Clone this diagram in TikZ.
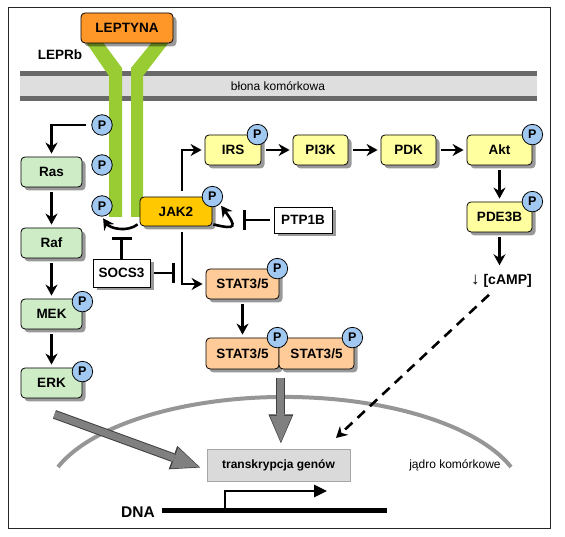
\documentclass[tikz,border=0pt]{standalone}
\usepackage{fontspec}
\setmainfont{Liberation Sans}
\usetikzlibrary{arrows.meta}
\usetikzlibrary{shadows}
\usetikzlibrary{calc}

\definecolor{rasgreen}{RGB}{206,236,198}
\definecolor{irsyellow}{RGB}{255,255,160}
\definecolor{leporange}{RGB}{255,150,40}
\definecolor{jakgold}{RGB}{255,200,0}
\definecolor{statorange}{RGB}{255,204,153}
\definecolor{pblue}{RGB}{160,200,240}
\definecolor{recgreen}{RGB}{153,204,51}
\definecolor{memdark}{RGB}{105,105,105}
\definecolor{memlight}{RGB}{222,222,222}
\definecolor{transgrey}{RGB}{218,218,218}
\definecolor{arrowgrey}{RGB}{128,128,128}
\definecolor{nucgrey}{RGB}{150,150,150}

\begin{document}
\begin{tikzpicture}[
  x=1pt, y=1pt,
  protein/.style={draw=black, line width=0.8pt, rounded corners=4pt, minimum height=30pt, inner sep=2pt, font=\fontsize{13.5}{15}\selectfont\bfseries, drop shadow={shadow xshift=3.5pt, shadow yshift=-3.5pt, opacity=0.4, fill=black}},
  mapk/.style={protein, fill=rasgreen, minimum width=61pt},
  pi3kpath/.style={protein, fill=irsyellow, minimum width=55pt},
  statbox/.style={protein, fill=statorange, minimum width=73pt},
  regulator/.style={draw=black, line width=0.8pt, fill=white, inner sep=2pt, font=\fontsize{13.5}{15}\selectfont\bfseries, drop shadow={shadow xshift=3.5pt, shadow yshift=-3.5pt, opacity=0.4, fill=black}},
  phos/.style={circle, draw=black, line width=0.8pt, fill=pblue, inner sep=0pt, minimum size=20.5pt, font=\fontsize{12.5}{12.5}\selectfont\bfseries},
  act/.style={draw=black, line width=2.6pt, -{Stealth[length=11pt, width=12pt]}, shorten <=5pt, shorten >=3pt},
  inhib/.style={draw=black, line width=2.6pt, -{Bar[width=20pt]}, shorten <=4pt},
  camp effect/.style={draw=black, line width=2.6pt, dash pattern=on 10pt off 7pt, -{Stealth[length=11pt, width=12pt]}, shorten <=9pt},
  nuclear/.style={draw=arrowgrey, line width=7pt, -{Triangle[length=26pt, width=22pt, line width=0pt]}, preaction={draw=black!75, line width=9pt, -{Triangle[length=29pt, width=25pt, line width=0pt]}, shorten >=-1.5pt}},
  caption text/.style={font=\fontsize{12}{14}\selectfont}
]

% Frame
\useasboundingbox (0,0) rectangle (565,537);
\draw[black!85, line width=0.9pt] (8,9) rectangle (550,530);

%% CELL MEMBRANE
\fill[memlight] (20,441) rectangle (537,461);
\fill[memdark] (20,461) rectangle (537,466);
\fill[memdark] (20,436) rectangle (537,441);
\node[caption text] (membrane) at (278,451) {błona komórkowa};

%% RECEPTOR
\fill[recgreen] (85,496) -- (102,496) -- (122,469) -- (122,320) -- (109,320) -- (109,461) -- cycle;
\fill[recgreen] (153,496) -- (170,496) -- (143,461) -- (143,320) -- (131,320) -- (131,469) -- cycle;
\node[protein, fill=leporange, minimum width=92pt] (leptyna) at (127,509) {LEPTYNA};
\node[font=\fontsize{13.5}{15}\selectfont\bfseries] (leprb) at (60,482) {LEPRb};

%% NUCLEUS
\draw[nucgrey, line width=4pt] (58,70) arc[start angle=160.7, end angle=19.3, x radius=240, y radius=104.6];
\node[caption text] (nucleus) at (455,72) {jądro komórkowe};
\node[draw=black!35, fill=transgrey, minimum width=143pt, minimum height=32pt, font=\fontsize{12}{14}\selectfont\bfseries] (trans) at (278.5,72) {transkrypcja genów};

% DNA with transcription start
\node[font=\fontsize{15.5}{17}\selectfont\bfseries] (dna) at (138,25) {DNA};
\coordinate (dna_start) at (162,26);
\coordinate (dna_end) at (387,26);
\coordinate (tss) at (225,26);
\coordinate (tss_end) at (327,46);
\draw[line width=5pt] (dna_start) -- (dna_end);
\draw[line width=2.6pt, -{Triangle[length=13pt, width=12pt]}] (tss) |- (tss_end);

%% MAPK CASCADE
\node[mapk] (ras) at (51.5,365) {Ras};
\node[mapk] (raf) at (51.5,294) {Raf};
\node[mapk] (mek) at (51.5,223) {MEK};
\node[mapk] (erk) at (51.5,154) {ERK};

%% JAK / STAT
\node[protein, fill=jakgold, minimum width=72pt, minimum height=29pt] (jak) at (176,325.5) {JAK2};
\node[regulator, minimum width=57pt, minimum height=28pt] (socs) at (121.5,264) {SOCS3};
\node[regulator, minimum width=58pt, minimum height=26pt] (ptp) at (303,317) {PTP1B};
\node[statbox] (stat) at (242.5,253) {STAT3/5};
\node[statbox, minimum height=31pt] (statl) at (242.5,183.5) {STAT3/5};
\node[statbox, minimum width=75pt, minimum height=31pt] (statr) at (316.5,183.5) {STAT3/5};

%% PI3K PATHWAY
\node[pi3kpath, minimum width=56pt] (irs) at (233,387) {IRS};
\node[pi3kpath] (pi3k) at (320.5,387) {PI3K};
\node[pi3kpath] (pdk) at (408.5,387) {PDK};
\node[pi3kpath, minimum width=65pt] (akt) at (499.5,387) {Akt};
\node[pi3kpath, minimum width=65pt] (pde) at (499.5,320) {PDE3B};
\node[font=\fontsize{14}{16}\selectfont\bfseries, inner sep=1pt, anchor=east] (camp) at (533,256) {{\fontsize{17}{17}\selectfont\mdseries ↓} [cAMP]};

%% PHOSPHORYLATION SITES
\node[phos] (pr1) at (102,412) {P};
\node[phos] (pr2) at (102,372) {P};
\node[phos] (pr3) at (102,331) {P};
\node[phos] (pmek) at ([yshift=-3pt]mek.north east) {P};
\node[phos] (perk) at ([yshift=-4pt]erk.north east) {P};
\node[phos] (pjak) at (jak.north east) {P};
\node[phos] (pirs) at ([xshift=-4pt]irs.north east) {P};
\node[phos] (pakt) at (akt.north east) {P};
\node[phos] (ppde) at (pde.north east) {P};
\node[phos] (pstat) at ([xshift=-2pt]stat.north east) {P};
\node[phos] (pstatl) at ([xshift=-2pt]statl.north east) {P};
\node[phos] (pstatr) at ([xshift=-2pt]statr.north east) {P};

%% ACTIVATION
\draw[act] (pr1.west) -| (ras.north);
\draw[act] (ras) -- (raf);
\draw[act] (raf) -- (mek);
\draw[act] (mek) -- (erk);

\coordinate (jak_fork) at (182,325.5);
\draw[act, shorten <=6pt] (jak_fork |- jak.north) |- (irs.west);
\draw[act, shorten <=6pt] (jak_fork |- jak.south) |- (stat.west);
\draw[act] (stat.south -| statl.north) -- (statl.north);

\draw[act] (irs) -- (pi3k);
\draw[act] (pi3k) -- (pdk);
\draw[act] (pdk) -- (akt);
\draw[act] (akt) -- (pde);
\draw[act, shorten >=8pt] (pde.south) -- (pde.south |- camp.north);

% JAK2 phosphorylates the receptor and itself
\draw[act, shorten <=0pt, shorten >=2pt] ([shift={(-2pt,2pt)}]jak.south west) .. controls +(-10,-8) and +(8,-12) .. (pr3.south);
\draw[act, shorten <=0pt, shorten >=2pt] ([shift={(1pt,2pt)}]jak.south east) .. controls +(24,-6) and +(16,-22) .. (pjak.south east);

%% INHIBITION
\coordinate (socs_t1) at (121.5,300);
\coordinate (socs_t2) at (175,264);
\coordinate (ptp_t) at (243,317);
\draw[inhib, shorten <=0pt] (socs.north) -- (socs_t1);
\draw[inhib] (socs.east) -- (socs_t2);
\draw[inhib] (ptp.west) -- (ptp_t);

%% INTO THE NUCLEUS
\coordinate (camp_end) at (336,99);
\draw[camp effect] ([xshift=-6pt]camp.south) -- (camp_end);
\draw[nuclear] ($(erk.south)+(3,-16)$) -- ($(trans.west)+(-8,-2)$);
\draw[nuclear] ($(statl.south east)+(1.5,-9)$) -- ($(statl.south east |- trans.north)+(1.5,7)$);

\end{tikzpicture}
\end{document}
